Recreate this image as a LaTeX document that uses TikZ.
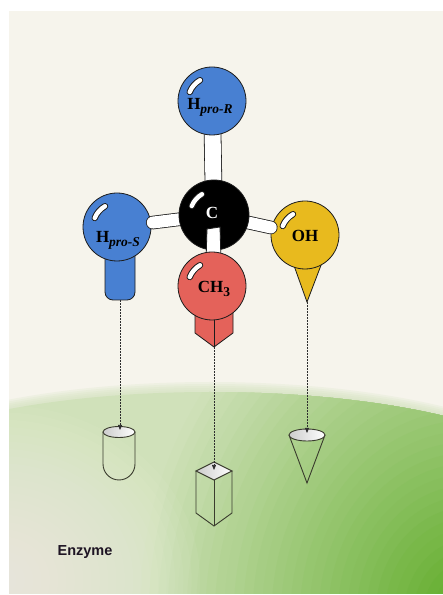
\documentclass[tikz,border=0pt]{standalone}
\usepackage{fontspec}
\newfontfamily\enzfont{Liberation Sans}
\newfontfamily\atomfont{Liberation Serif}
\usepackage{tikz}
\usetikzlibrary{calc,arrows.meta}

\definecolor{panelbg}{RGB}{246,244,236}
\definecolor{enzpale}{RGB}{208,225,186}
\definecolor{enzdeep}{RGB}{92,170,36}
\definecolor{hblue}{RGB}{72,128,210}
\definecolor{mered}{RGB}{228,98,90}
\definecolor{ohgold}{RGB}{232,186,30}
\definecolor{inkline}{RGB}{28,28,28}
\definecolor{pocketline}{RGB}{58,60,46}

% subscripts of the group labels
\newcommand\atomsub[1]{\raisebox{-4pt}{\fontsize{13.5}{14}\selectfont #1}}
% glossy streak on a ball
\newcommand\shine[1]{%
  \draw[inkline, line width=6.4, line cap=round] ([shift={(158:24)}]#1) arc[start angle=158, end angle=120, radius=24];
  \draw[white, line width=4.4, line cap=round] ([shift={(158:24)}]#1) arc[start angle=158, end angle=120, radius=24];}
% white rod between two balls
\newcommand\rod[3]{%
  \draw[inkline, line width=#3+1.6, line cap=round] (#1) -- (#2);
  \draw[white, line width=#3, line cap=round] (#1) -- (#2);}
% outline of the enzyme surface, grown by #1
\newcommand\enzymepath[1]{(-150-#1,103) arc[start angle=180, end angle=0, x radius=360+#1, y radius=100+#1] -- (570+#1,-10) -- (-150-#1,-10) -- cycle}

\tikzset{
  atom/.style={circle, draw=inkline, line width=0.8, minimum size=68, inner sep=0},
  atomlab/.style={font=\atomfont\bfseries\fontsize{17}{18}\selectfont, inner sep=0, anchor=base},
  tail/.style={draw=inkline, line width=0.8},
  probe/.style={gray!35!black, line width=0.7, dash pattern=on 1.6pt off 1.4pt, -{Triangle[length=5pt,width=4pt]}},
  pocket/.style={draw=pocketline, line width=0.9},
  pockettop/.style={pocket, left color=gray!40!white, right color=white},
}

\begin{document}
\begin{tikzpicture}[x=1pt,y=1pt]
  \useasboundingbox (0,0) rectangle (443,595);

  % panel and enzyme surface
  \begin{scope}
    \clip (9,1) rectangle (443,584);
    \fill[panelbg] (9,1) rectangle (443,584);
    \foreach \d in {10,8,...,2}
      \fill[enzpale, opacity=0.2] \enzymepath{\d};
    \begin{scope}
      \clip \enzymepath{0};
      \fill[enzpale] (9,1) rectangle (443,210);
      % darker green towards the lower right
      \foreach \i in {0,...,35} {
        \pgfmathsetmacro\s{1-\i/36}
        \pgfmathtruncatemacro\p{100*\i/36}
        \fill[enzdeep!\p!enzpale] (470,-20) ellipse ({340*\s} and {390*\s});
      }
    \end{scope}
    % pale patch at the lower left
    \foreach \i in {1,...,24}
      \fill[panelbg, opacity=0.06] (0,15) ellipse ({200*\i/24} and {175*\i/24});
  \end{scope}
  \node[font=\enzfont\bfseries\fontsize{14.5}{16}\selectfont, text={rgb,255:red,30;green,20;blue,35}] (enzlab) at (85,43) {Enzyme};

  % binding pockets
  \draw[pocket] (103,163) -- (103,131) arc[start angle=180, end angle=360, radius=16] -- (135,163);
  \draw[pockettop] (119,163) ellipse (16 and 5.5);
  \draw[pocket] (196,124) -- (196,82) -- (214,69) -- (232,82) -- (232,124);
  \draw[pocket] (214,115) -- (214,69);
  \draw[pockettop] (196,124) -- (214,133) -- (232,124) -- (214,115) -- cycle;
  \draw[pocket] (289,160) -- (307,112) -- (325,160);
  \draw[pockettop] (307,160) ellipse (18 and 6);
  \coordinate (cylmouth) at (120,165);
  \coordinate (boxmouth) at (214,125);
  \coordinate (conemouth) at (307,162);

  % ball positions
  \coordinate (hr) at (212,494);
  \coordinate (cc) at (214,380);
  \coordinate (hs) at (117,368);
  \coordinate (oh) at (305,360);
  \coordinate (ch) at (212,309);

  % H pro-R
  \rod{hr}{cc}{16}
  \node[atom, fill=hblue] (hrball) at (hr) {};
  \shine{hr}
  \node[atomlab] (hrlab) at (210,485) {H\atomsub{\itshape pro-R}};

  % H pro-S with its round stem
  \draw[tail, fill=hblue, rounded corners=8] (105,360) -- (105,295) -- (135,295) -- (135,360);
  \coordinate (hsfoot) at (120,295);
  \node[atom, fill=hblue] (hsball) at (hs) {};
  \shine{hs}
  \node[atomlab] (hslab) at (118,352) {H\atomsub{\itshape pro-S}};
  \rod{$(hs)!36pt!(cc)$}{cc}{12}

  % OH with its cone
  \draw[tail, fill=ohgold] (292,335) -- (307,293) -- (323,335);
  \coordinate (ohfoot) at (307,293);
  \node[atom, fill=ohgold] (ohball) at (oh) {};
  \shine{oh}
  \node[atomlab] (ohlab) at (305,353) {OH};
  \rod{$(oh)!35pt!(cc)$}{cc}{12}

  % central carbon
  \node[atom, fill=black, minimum size=70] (cball) at (cc) {};
  \shine{cc}
  \node[atomlab, text=white] (clab) at (212,376) {C};

  % CH3 bond toward the viewer, then the ball and its prism
  \draw[tail, fill=white] (207,366) -- (220,368) -- (222,300) -- (205,300) -- cycle;
  \draw[tail, fill=mered] (195,300) -- (195,262) -- (214,248) -- (233,262) -- (233,300);
  \draw[tail] (214,300) -- (214,248);
  \coordinate (chfoot) at (214,248);
  \node[atom, fill=mered] (chball) at (ch) {};
  \shine{ch}
  \node[atomlab] (chlab) at (214,302) {CH\atomsub{3}};

  % probes down to the pockets
  \draw[probe] (hsfoot) -- (cylmouth);
  \draw[probe] (chfoot) -- (boxmouth);
  \draw[probe] (ohfoot) -- (conemouth);
\end{tikzpicture}
\end{document}
